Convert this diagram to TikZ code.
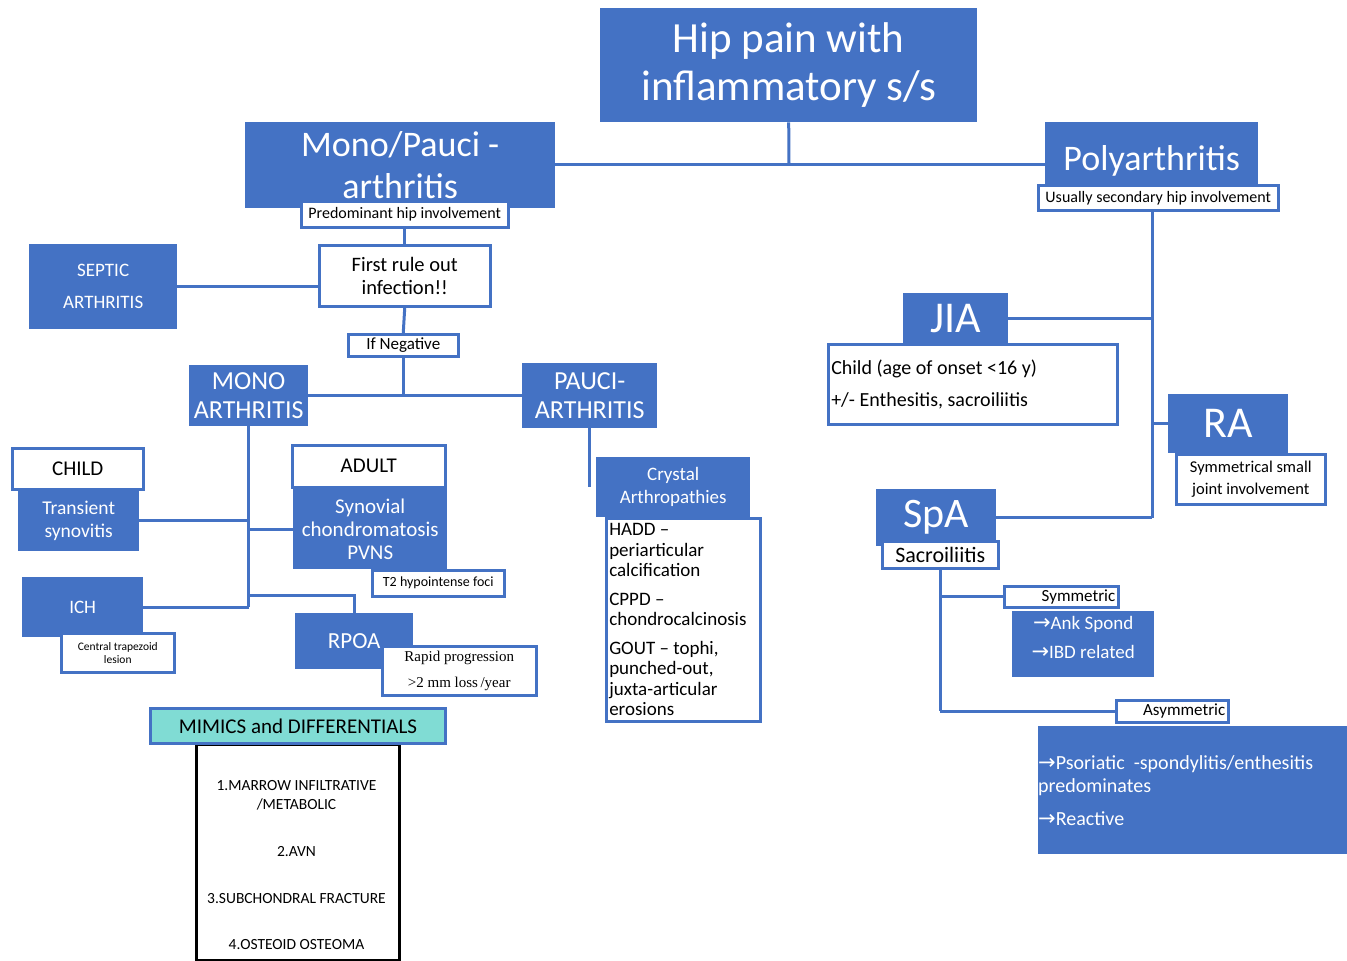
\documentclass[tikz,border=0pt]{standalone}
\usepackage{fontspec}
\setmainfont{Carlito}
\newfontfamily\timesf{Liberation Serif}
\newfontfamily\arrf{DejaVu Sans}
\usetikzlibrary{calc}
\definecolor{myblue}{RGB}{68,114,196}
\definecolor{mycyan}{RGB}{128,220,212}
\newcommand{\fsz}[2]{\fontsize{#1}{#2}\selectfont}
\newcommand{\arr}{{\arrf\fontsize{21}{21}\selectfont →}}
\begin{document}
\begin{tikzpicture}[x=1pt,y=-1pt,
 bx/.style={fill=myblue,text=white,inner sep=0pt,align=center,anchor=north west},
 wb/.style={fill=white,draw=myblue,line width=2.5pt,text=black,inner sep=0pt,align=center,anchor=north west},
 ln/.style={draw=myblue,line width=3pt},
 sz/.style 2 args={minimum width=#1pt,minimum height=#2pt}]
\useasboundingbox[fill=white] (0,0) rectangle (1347,961);

% top level
\node[bx,sz={377}{114},font=\fsz{43}{48}] (title) at (600,8) {Hip pain with\\inflammatory s/s};
\node[bx,sz={310}{86},font=\fsz{36}{42}] (mono) at (245,122) {Mono/Pauci -\\arthritis};
\node[wb,sz={207}{26},font=\fsz{16}{18}] (predl) at (300,200) {Predominant hip involvement};
\node[bx,sz={213}{78},font=\fsz{36}{42}] (poly) at (1045,122) {Polyarthritis};
\node[wb,sz={240}{25},font=\fsz{16}{18}] (polyl) at (1037,184) {Usually secondary hip involvement};

% left branch
\node[wb,sz={171}{61},font=\fsz{20.5}{23}] (first) at (318,244) {First rule out\\infection!!};
\node[bx,sz={148}{85},font=\fsz{19}{32}] (septic) at (29,244) {SEPTIC\\ARTHRITIS};
\node[wb,sz={110}{22},font=\fsz{17}{20}] (ifneg) at (347,333) {If Negative};
\node[bx,sz={119}{61},font=\fsz{26}{29}] (monoA) at (189,365) {MONO\\ARTHRITIS};
\node[bx,sz={135}{65},font=\fsz{26}{29}] (pauci) at (522,363) {PAUCI-\\ARTHRITIS};

\node[wb,sz={131}{41},font=\fsz{21}{24}] (child) at (11,447) {CHILD};
\node[bx,sz={121}{61},font=\fsz{19.5}{23}] (trans) at (18,490) {Transient\\synovitis};
\node[bx,sz={121}{60},font=\fsz{19}{22}] (ich) at (22,577) {ICH};
\node[wb,sz={113}{39},font=\fsz{11.5}{13}] (ctl) at (60,632) {Central trapezoid\\lesion};
\node[wb,sz={153}{42},font=\fsz{21}{24}] (adult) at (291,444) {ADULT};
\node[bx,sz={154}{80},font=\fsz{21}{23}] (syn) at (293,489) {Synovial\\chondromatosis\\PVNS};
\node[wb,sz={132}{26},font=\fsz{14}{16}] (t2) at (371,569) {T2 hypointense foci};
\node[bx,sz={118}{56},font=\fsz{23}{26}] (rpoa) at (295,613) {RPOA};
\node[wb,sz={154}{49},font=\timesf\fsz{15}{26}] (rapid) at (381,645) {Rapid progression\\>2 mm loss\,/year};

% mimics
\node[draw=black,fill=white,line width=3pt,inner sep=0pt,anchor=north west,sz={203}{216}] (mimlist) at (195,743) {};
\node[fill=mycyan,draw=myblue,line width=3pt,inner sep=0pt,anchor=north west,sz={295}{35},font=\fsz{21}{24}] (mim) at (149,707) {MIMICS and DIFFERENTIALS};
\node[font=\fsz{15.5}{19},align=center,inner sep=0pt] (mimtext) at (296.5,865.5) {1.MARROW INFILTRATIVE\\/METABOLIC\\[28pt]2.AVN\\[28pt]3.SUBCHONDRAL FRACTURE\\[27pt]4.OSTEOID OSTEOMA};

% crystal
\node[wb,sz={154}{203},align=flush left,text width=148pt,inner xsep=3pt,inner ysep=0pt,font=\fsz{19}{20.5}] (cryt) at (605,517) {HADD –\\periarticular\\calcification\\[8pt]CPPD –\\chondrocalcinosis\\[8pt]GOUT – tophi,\\punched-out,\\juxta-articular\\erosions};
\node[bx,sz={154}{60},font=\fsz{19}{23}] (crys) at (596,457) {Crystal\\Arthropathies};

% right branch
\node[bx,sz={105}{50},font=\fsz{44}{48}] (jia) at (903,293) {JIA};
\node[wb,sz={289}{80},align=flush left,text width=283pt,inner xsep=3pt,font=\fsz{20}{32}] (jiat) at (827,343) {Child (age of onset <16 y)\\+/- Enthesitis, sacroiliitis};
\node[bx,sz={120}{59},font=\fsz{44}{48}] (ra) at (1168,394) {RA};
\node[wb,sz={149}{50},font=\fsz{16.5}{22}] (ral) at (1175,453) {Symmetrical small\\joint involvement};
\node[bx,sz={120}{57},font=\fsz{42}{46}] (spa) at (876,489) {SpA};
\node[wb,sz={116}{27},font=\fsz{22}{24}] (sacro) at (881,540) {Sacroiliitis};
\node[wb,sz={114}{21},align=flush right,text width=108pt,inner xsep=3pt,font=\fsz{17}{18}] (sym) at (1003,585) {Symmetric};
\node[bx,sz={142}{66},font=\fsz{19}{29}] (ank) at (1012,611) {\arr Ank Spond\\\arr IBD related\\[-16pt]\mbox{}};
\node[wb,sz={112}{22},align=flush right,text width=106pt,inner xsep=3pt,font=\fsz{17}{18}] (asym) at (1115,699) {Asymmetric};
\node[bx,sz={309}{128},align=flush left,text width=309pt,font=\fsz{20}{23}] (pso) at (1038,726) {\arr Psoriatic\ \ -spondylitis/enthesitis\\predominates\\[10pt]\arr Reactive};

% connectors
\coordinate (j0) at (789,164);
\draw[ln] (title.south) -- (j0);
\draw[ln] (mono.east |- j0) -- (poly.west |- j0);
\draw[ln] (predl.south) -- (first.north);
\draw[ln] (septic.east) -- (septic.east -| first.west);
\draw[ln] (first.south) -- (ifneg.north);
\draw[ln] (ifneg.south) -- (ifneg.south |- monoA.east);
\draw[ln] (monoA.east) -- (pauci.west |- monoA.east);

\draw[ln] (monoA.south) -- (monoA.south |- ich.east);
\draw[ln] (trans.east) -- (trans.east -| monoA.south);
\draw[ln] (syn.west) -- (syn.west -| monoA.south);
\draw[ln] (ich.east) -- (ich.east -| monoA.south);
\coordinate (m1) at (248.5,595);
\draw[ln] (m1) -- (rpoa.north |- m1) -- (rpoa.north);

\draw[ln] (pauci.south) -- (pauci.south |- crys.west);

\coordinate (rx) at (1152,209);
\draw[ln] (rx) -- (rx |- spa.east);
\draw[ln] (jia.east) -- (jia.east -| rx);
\draw[ln] (ra.west) -- (ra.west -| rx);
\draw[ln] (spa.east) -- (spa.east -| rx);

\draw[ln] (sacro.south) -- (sacro.south |- asym.west);
\draw[ln] (sacro.south |- sym.west) -- (sym.west);
\draw[ln] (sacro.south |- asym.west) -- (asym.west);
\end{tikzpicture}
\end{document}
